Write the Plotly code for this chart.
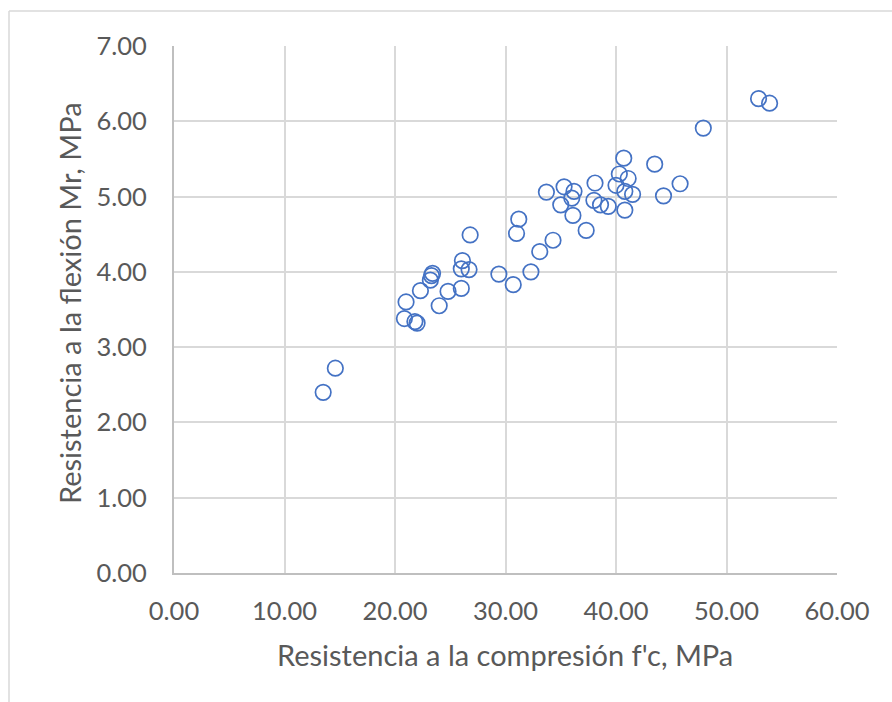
import plotly.graph_objects as go

# Resistencia a la compresión f'c (MPa)
fc = [13.5, 14.6, 20.85, 21.0, 21.8, 22.0, 22.3, 23.2, 23.3, 23.4,
      24.0, 24.8, 26.0, 26.0, 26.1, 26.7, 26.8, 29.4, 30.7, 31.0,
      31.2, 32.3, 33.1, 34.3, 33.7, 35.0, 35.3, 36.0, 36.2, 36.1,
      37.3, 38.1, 38.0, 38.6, 39.3, 40.0, 40.3, 40.7, 41.1, 40.8,
      41.5, 40.8, 43.5, 44.3, 45.8, 47.9, 52.9, 53.9]
# Resistencia a la flexión Mr (MPa)
mr = [2.40, 2.72, 3.38, 3.60, 3.34, 3.32, 3.75, 3.89, 3.95, 3.98,
      3.55, 3.74, 3.78, 4.04, 4.15, 4.03, 4.49, 3.97, 3.83, 4.51,
      4.70, 4.00, 4.27, 4.42, 5.06, 4.89, 5.13, 4.98, 5.07, 4.75,
      4.55, 5.18, 4.95, 4.89, 4.87, 5.15, 5.30, 5.51, 5.24, 5.07,
      5.03, 4.82, 5.43, 5.01, 5.17, 5.91, 6.30, 6.24]

x_ticks = [0, 10, 20, 30, 40, 50, 60]
x_ticklabels = ["0.00", "10.00", "20.00", "30.00", "40.00", "50.00", "60.00"]
y_ticks = [0, 1, 2, 3, 4, 5, 6, 7]
y_ticklabels = ["0.00", "1.00", "2.00", "3.00", "4.00", "5.00", "6.00", "7.00"]

x_title = "Resistencia a la compresión f'c, MPa"
y_title = "Resistencia a la flexión Mr, MPa"

FONT = "Lato"
TXT = "#595959"
GRID = "#d9d9d9"
AXL = "#bfbfbf"

W, H = 892, 702
L, R, T, B = 174, 55, 46, 129
pw, ph = W - L - R, H - T - B

def px_to_paper_x(px):
    return (px - L) / pw

def px_to_paper_y(py):
    return (H - B - py) / ph

fig = go.Figure()
fig.add_trace(go.Scatter(
    x=fc, y=mr, mode="markers",
    marker=dict(symbol="circle-open", size=15.5, color="#4472C4",
                line=dict(width=1.7, color="#4472C4")),
    showlegend=False, hoverinfo="x+y",
))

fig.update_layout(
    width=W, height=H,
    margin=dict(l=L, r=R, t=T, b=B, pad=0),
    paper_bgcolor="white", plot_bgcolor="white",
    font=dict(family=FONT, color=TXT),
    xaxis=dict(range=[0, 60], tickvals=x_ticks, ticktext=x_ticklabels,
               showgrid=True, gridcolor=GRID, gridwidth=1.5,
               zeroline=False, showline=True, linecolor=AXL, linewidth=2.2,
               ticks="", ticklabelstandoff=14,
               tickfont=dict(family=FONT, size=25.5, color=TXT),
               fixedrange=True),
    yaxis=dict(range=[0, 7], tickvals=y_ticks, ticktext=y_ticklabels,
               showgrid=True, gridcolor=GRID, gridwidth=1.5,
               zeroline=False, showline=True, linecolor=AXL, linewidth=2.2,
               ticks="", ticklabelstandoff=20,
               tickfont=dict(family=FONT, size=25.5, color=TXT),
               fixedrange=True),
    annotations=[
        dict(text=x_title, xref="paper", yref="paper",
             x=px_to_paper_x(505), y=px_to_paper_y(654),
             xanchor="center", yanchor="middle", showarrow=False,
             font=dict(family=FONT, size=29, color=TXT)),
        dict(text=y_title, xref="paper", yref="paper",
             x=px_to_paper_x(69), y=px_to_paper_y(303),
             xanchor="center", yanchor="middle", showarrow=False,
             textangle=-90,
             font=dict(family=FONT, size=29, color=TXT)),
    ],
    shapes=[
        dict(type="line", xref="paper", yref="paper",
             x0=px_to_paper_x(9), x1=px_to_paper_x(9),
             y0=px_to_paper_y(11), y1=px_to_paper_y(H + 5),
             line=dict(color=GRID, width=1.5)),
        dict(type="line", xref="paper", yref="paper",
             x0=px_to_paper_x(9), x1=px_to_paper_x(W + 5),
             y0=px_to_paper_y(11), y1=px_to_paper_y(11),
             line=dict(color=GRID, width=1.5)),
    ],
)

fig.write_html("out.html", include_plotlyjs=True, config={"displayModeBar": False})
